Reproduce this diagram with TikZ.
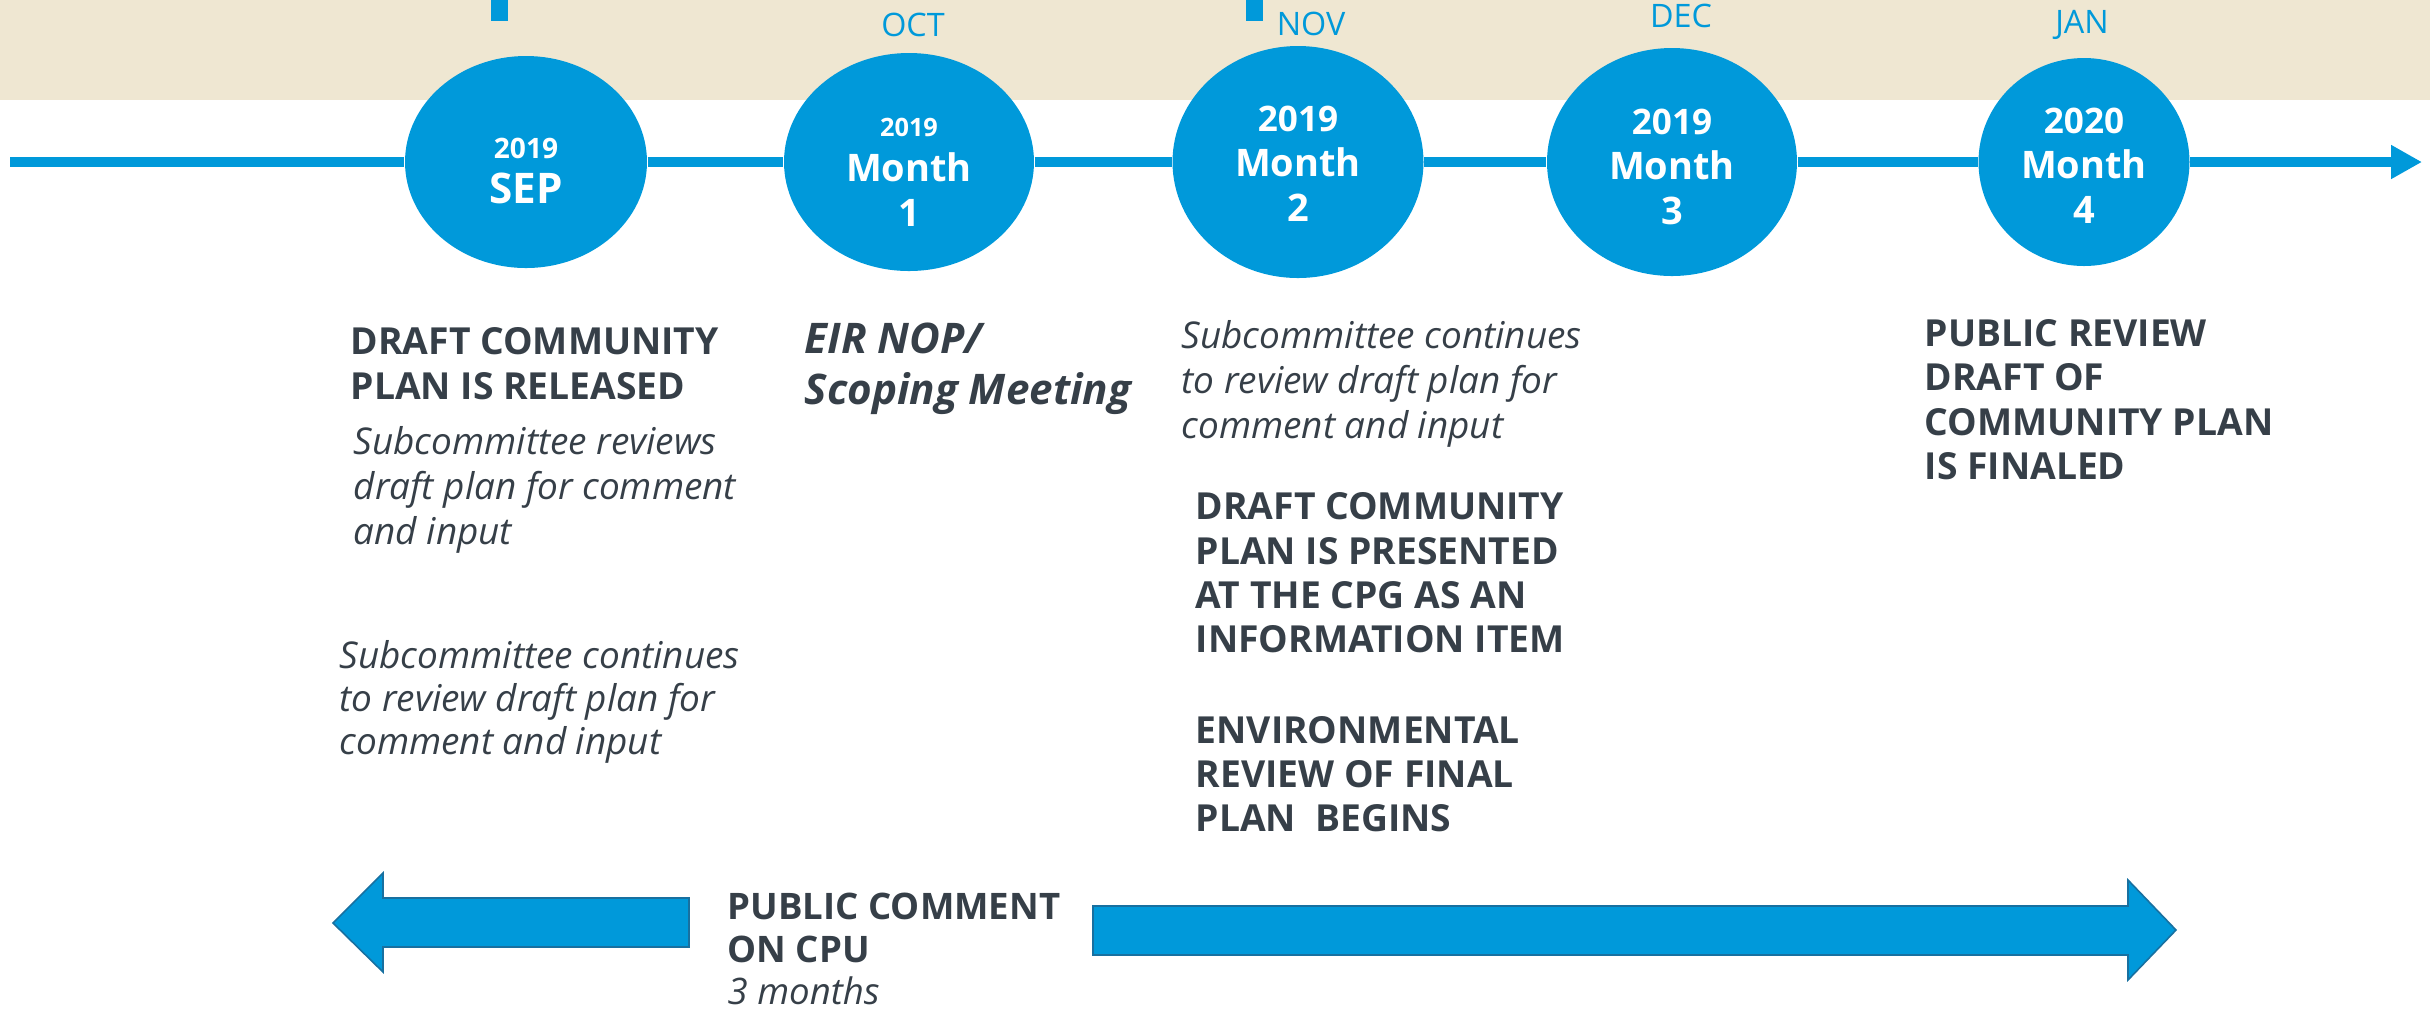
\documentclass[tikz,border=0pt]{standalone}
\usepackage{fontspec}
\setmainfont{Open Sans}
\usepackage{tikz}
\usetikzlibrary{arrows.meta, shapes.geometric}
\definecolor{tlblue}{RGB}{0,153,218}
\definecolor{tlbeige}{RGB}{239,231,210}
\definecolor{tlgray}{RGB}{54,63,72}
\definecolor{tledge}{RGB}{24,112,160}

\begin{document}
\begin{tikzpicture}[x=0.1mm, y=-0.1mm,
  monthball/.style={ellipse, fill=tlblue, inner sep=0pt},
  balltext/.style={anchor=north, inner sep=0pt, text=white, align=center,
    font=\bfseries\fontsize{10.8}{12.8}\selectfont},
  monthname/.style={anchor=north, inner sep=0pt, text=tlblue,
    font=\fontsize{9.2}{11}\selectfont},
  tline/.style={draw=tlblue, line width=1mm},
  boldnote/.style={anchor=north west, inner sep=0pt, text=tlgray, align=left,
    font=\bfseries\fontsize{10.6}{12.6}\selectfont},
  itnote/.style={anchor=north west, inner sep=0pt, text=tlgray, align=left,
    font=\itshape\fontsize{10.5}{12.4}\selectfont},
  bigarrow/.style={fill=tlblue, draw=tledge, line width=0.45pt}]

\useasboundingbox (0,0) rectangle (2430,1011);

%%% top band
\fill[tlbeige] (0,0) rectangle (2430,100);
\fill[tlblue] (491,0) rectangle (508,21);
\fill[tlblue] (1246,0) rectangle (1263,21);

\node[monthname] (lbl oct) at (913,12) {OCT};
\node[monthname] (lbl nov) at (1311,11) {NOV};
\node[monthname] (lbl dec) at (1681,3) {DEC};
\node[monthname] (lbl jan) at (2082,10) {JAN};

%%% timeline balls
\node[monthball, minimum width=24.2mm, minimum height=21.2mm] (sep) at (526,162) {};
\node[monthball, minimum width=25.0mm, minimum height=21.8mm] (m1) at (909,162) {};
\node[monthball, minimum width=25.1mm, minimum height=23.2mm] (m2) at (1298,162) {};
\node[monthball, minimum width=25.0mm, minimum height=22.8mm] (m3) at (1672,162) {};
\node[monthball, minimum width=21.1mm, minimum height=20.8mm] (m4) at (2084,162) {};

\node[balltext] (sep txt) at (526,137) {{\fontsize{8}{9}\selectfont 2019}\\{\fontsize{12}{13}\selectfont SEP}};
\node[balltext] (m1 txt) at (909,117) {{\fontsize{7.2}{8}\selectfont 2019}\\Month\\1};
\node[balltext] (m2 txt) at (1298,105) {{\fontsize{10}{11}\selectfont 2019}\\Month\\2};
\node[balltext] (m3 txt) at (1672,108) {{\fontsize{10}{11}\selectfont 2019}\\Month\\3};
\node[balltext] (m4 txt) at (2084,107) {{\fontsize{10}{11}\selectfont 2020}\\Month\\4};

%%% timeline line
\coordinate (tl start) at (10,162);
\coordinate (tl end) at (2422,162);
\foreach \a/\b in {tl start/sep, sep/m1, m1/m2, m2/m3, m3/m4}
  \draw[tline] (\a) -- (\b);
\draw[tline, -{Triangle[length=3.1mm, width=3.2mm]}] (m4) -- (tl end);

%%% notes
\node[boldnote, font=\bfseries\fontsize{10.6}{12.8}\selectfont] (released) at (350,327) {DRAFT COMMUNITY\\PLAN IS RELEASED};
\node[itnote, font=\itshape\fontsize{10.5}{12.8}\selectfont] (reviews) at (353,426) {Subcommittee reviews\\draft plan for comment\\and input};
\node[itnote, font=\itshape\fontsize{10.5}{12.2}\selectfont] (continues a) at (339,640) {Subcommittee continues\\to review draft plan for\\comment and input};
\node[anchor=north west, inner sep=0pt, text=tlgray, align=left,
  font=\bfseries\itshape\fontsize{12}{14.5}\selectfont] (eir) at (804,322) {EIR NOP/\\Scoping Meeting};
\node[itnote, font=\itshape\fontsize{10.5}{12.7}\selectfont] (continues b) at (1181,320) {Subcommittee continues\\to review draft plan for\\comment and input};
\node[boldnote] (presented) at (1195,492) {DRAFT COMMUNITY\\PLAN IS PRESENTED\\AT THE CPG AS AN\\INFORMATION ITEM};
\node[boldnote, font=\bfseries\fontsize{10.6}{12.5}\selectfont] (environ) at (1195,716) {ENVIRONMENTAL\\REVIEW OF FINAL\\PLAN\ \ BEGINS};
\node[boldnote] (finaled) at (1924,319) {PUBLIC REVIEW\\DRAFT OF\\COMMUNITY PLAN\\IS FINALED};

%%% public comment arrows
\draw[bigarrow] (689,898) -- (383,898) -- (383,873) -- (333,923) -- (383,972) -- (383,947) -- (689,947) -- cycle;
\draw[bigarrow] (1093,906) -- (2128,906) -- (2128,880) -- (2176,930) -- (2128,980) -- (2128,955) -- (1093,955) -- cycle;
\node[boldnote, font=\bfseries\fontsize{10.4}{12.2}\selectfont] (comment) at (727,892) {PUBLIC COMMENT\\ON CPU\\{\mdseries\itshape 3 months}};

\end{tikzpicture}
\end{document}
